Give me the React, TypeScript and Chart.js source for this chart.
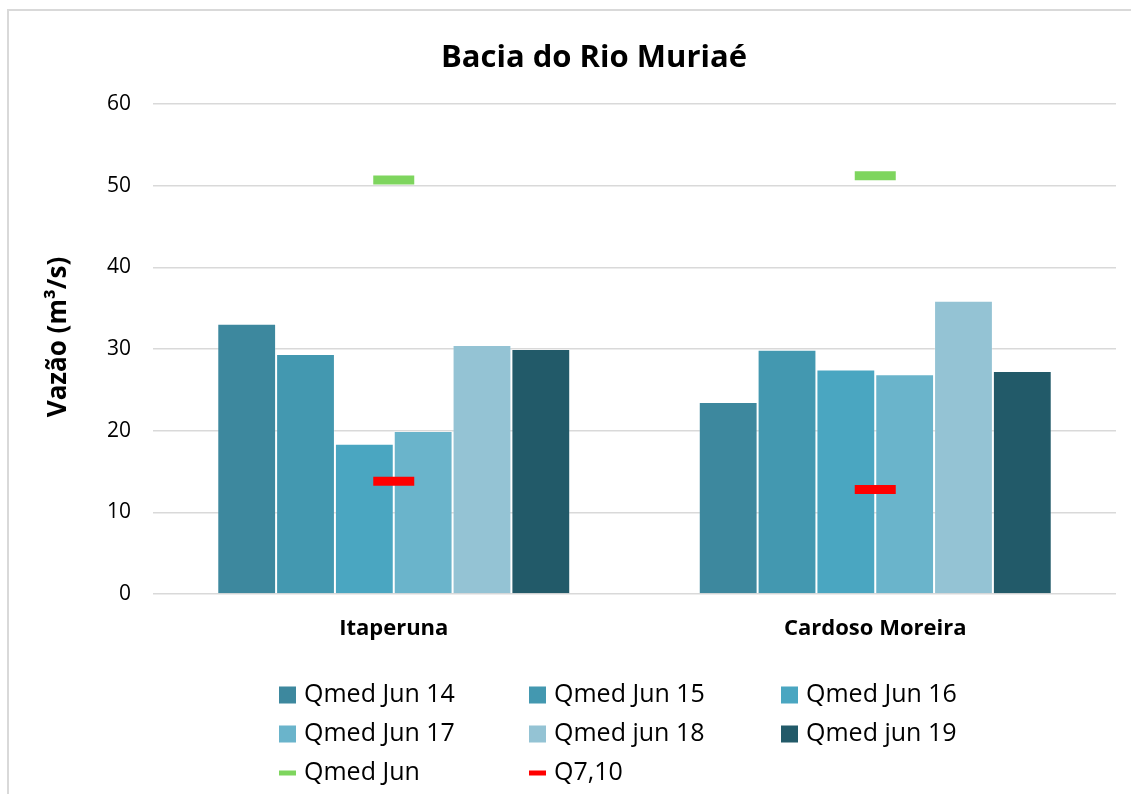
import { useEffect, useRef } from "react";
import { Chart, registerables } from "chart.js";

Chart.register(...registerables);

const FONT = "'Open Sans', 'DejaVu Sans', sans-serif";

const chartTitle = "Bacia do Rio Muriaé";
const yAxisTitle = "Vazão (m³/s)";
const categories = ["Itaperuna", "Cardoso Moreira"];
const yTicks = [0, 10, 20, 30, 40, 50, 60];

const barLabels = ["Qmed Jun 14", "Qmed Jun 15", "Qmed Jun 16", "Qmed Jun 17", "Qmed jun 18", "Qmed jun 19"];
const barColors = ["#3D889E", "#4398B0", "#4AA6C1", "#6AB4CB", "#94C3D4", "#225A69"];
const qmedJun14 = [33.1, 23.5];
const qmedJun15 = [29.4, 29.9];
const qmedJun16 = [18.4, 27.5];
const qmedJun17 = [19.95, 26.9];
const qmedJun18 = [30.5, 35.9];
const qmedJun19 = [30.0, 27.3];
const barValues = [qmedJun14, qmedJun15, qmedJun16, qmedJun17, qmedJun18, qmedJun19];

const qmedJunLabel = "Qmed Jun";
const qmedJun = [50.7, 51.2];
const q710Label = "Q7,10";
const q710 = [13.8, 12.8];

// legend layout (3 columns)
const legendCols = [279, 529, 781];
const legendRows = [695, 734, 773];

const frameAndLegend = {
  id: "frameAndLegend",
  beforeDraw(chart: any) {
    const ctx = chart.ctx;
    ctx.save();
    ctx.fillStyle = "#ffffff";
    ctx.fillRect(0, 0, chart.width, chart.height);
    ctx.fillStyle = "#d9d9d9";
    ctx.fillRect(7, 9, chart.width - 7, 2);
    ctx.fillRect(7, 9, 2, chart.height - 9);
    ctx.restore();
  },
  afterDraw(chart: any) {
    const ctx = chart.ctx;
    const area = chart.chartArea;
    // chart title
    ctx.save();
    ctx.font = `bold 31px ${FONT}`;
    ctx.fillStyle = "#000";
    ctx.textAlign = "center";
    ctx.textBaseline = "middle";
    ctx.fillText(chartTitle, 594, 58);
    ctx.restore();

    // y axis title
    ctx.save();
    ctx.translate(59, (area.top + area.bottom) / 2 - 12);
    ctx.rotate(-Math.PI / 2);
    ctx.font = `bold 26px ${FONT}`;
    ctx.fillStyle = "#000";
    ctx.textAlign = "center";
    ctx.textBaseline = "middle";
    ctx.fillText(yAxisTitle, 0, 0);
    ctx.restore();

    // legend
    ctx.save();
    ctx.font = `25px ${FONT}`;
    ctx.textAlign = "left";
    ctx.textBaseline = "middle";
    const dsets = chart.data.datasets;
    const ordered = [
      ...dsets.filter((d: any) => d.type !== "line"),
      ...dsets.filter((d: any) => d.type === "line"),
    ];
    ordered.forEach((ds: any, i: number) => {
      const x = legendCols[i % 3];
      const y = legendRows[Math.floor(i / 3)];
      if (ds.type === "line") {
        ctx.fillStyle = ds.pointBorderColor;
        ctx.fillRect(x, y - 2.5, 17, 5);
      } else {
        ctx.fillStyle = ds.backgroundColor;
        ctx.fillRect(x, y - 8.5, 17, 17);
      }
      ctx.fillStyle = "#000";
      ctx.fillText(ds.label, x + 25, y);
    });
    ctx.restore();
  },
};

export default function App() {
  const ref = useRef<HTMLCanvasElement | null>(null);

  useEffect(() => {
    if (!ref.current) return;
    document.documentElement.style.overflow = "hidden";
    document.body.style.overflow = "hidden";
    const lineDs = (label: string, data: number[], color: string) => ({
      type: "line" as const,
      label,
      data,
      showLine: false,
      pointStyle: "line",
      pointRadius: 20.5,
      pointHoverRadius: 20.5,
      pointBorderWidth: 9,
      pointHoverBorderWidth: 9,
      pointBorderColor: color,
      pointBackgroundColor: color,
      borderColor: color,
      backgroundColor: color,
      order: 0,
    });
    const chart = new Chart(ref.current, {
      type: "bar",
      data: {
        labels: categories,
        datasets: [
          ...barValues.map((vals, i) => ({
            type: "bar" as const,
            label: barLabels[i],
            data: vals,
            backgroundColor: barColors[i],
            borderColor: "rgba(255,255,255,0.22)",
            borderWidth: 1,
            categoryPercentage: 0.733,
            barPercentage: 1,
            order: 1,
          })),
          lineDs(qmedJunLabel, qmedJun, "#7ED55E"),
          lineDs(q710Label, q710, "#FF0000"),
        ] as any,
      },
      options: {
        animation: false,
        responsive: false,
        devicePixelRatio: 1,
        events: [],
        layout: { autoPadding: false, padding: { left: 0, right: 15, top: 104, bottom: 0 } },
        plugins: {
          legend: { display: false },
          tooltip: { enabled: false },
          title: { display: false },
        },
        scales: {
          x: {
            grid: { display: false, drawTicks: false },
            border: { display: false },
            ticks: { color: "#000", font: { family: FONT, size: 22, weight: "bold" }, padding: 22 },
            afterFit: (s: any) => {
              s.height = 200;
              s.paddingLeft = 0;
              s.paddingRight = 0;
            },
          },
          y: {
            min: 0,
            max: 60,
            afterBuildTicks: (axis: any) => {
              axis.ticks = yTicks.map((v) => ({ value: v }));
            },
            ticks: { color: "#000", font: { family: FONT, size: 21 }, padding: 22 },
            grid: { color: "#d9d9d9", lineWidth: 1.5, drawTicks: false },
            border: { display: false },
            afterFit: (s: any) => {
              s.width = 153;
            },
          },
        },
      } as any,
      plugins: [frameAndLegend],
    });
    return () => chart.destroy();
  }, []);

  return (
    <div style={{ position: "fixed", left: 0, top: 0, width: 1131, height: 794, overflow: "hidden" }}>
      <canvas ref={ref} width={1131} height={794} style={{ display: "block", width: 1131, height: 794 }} />
    </div>
  );
}
